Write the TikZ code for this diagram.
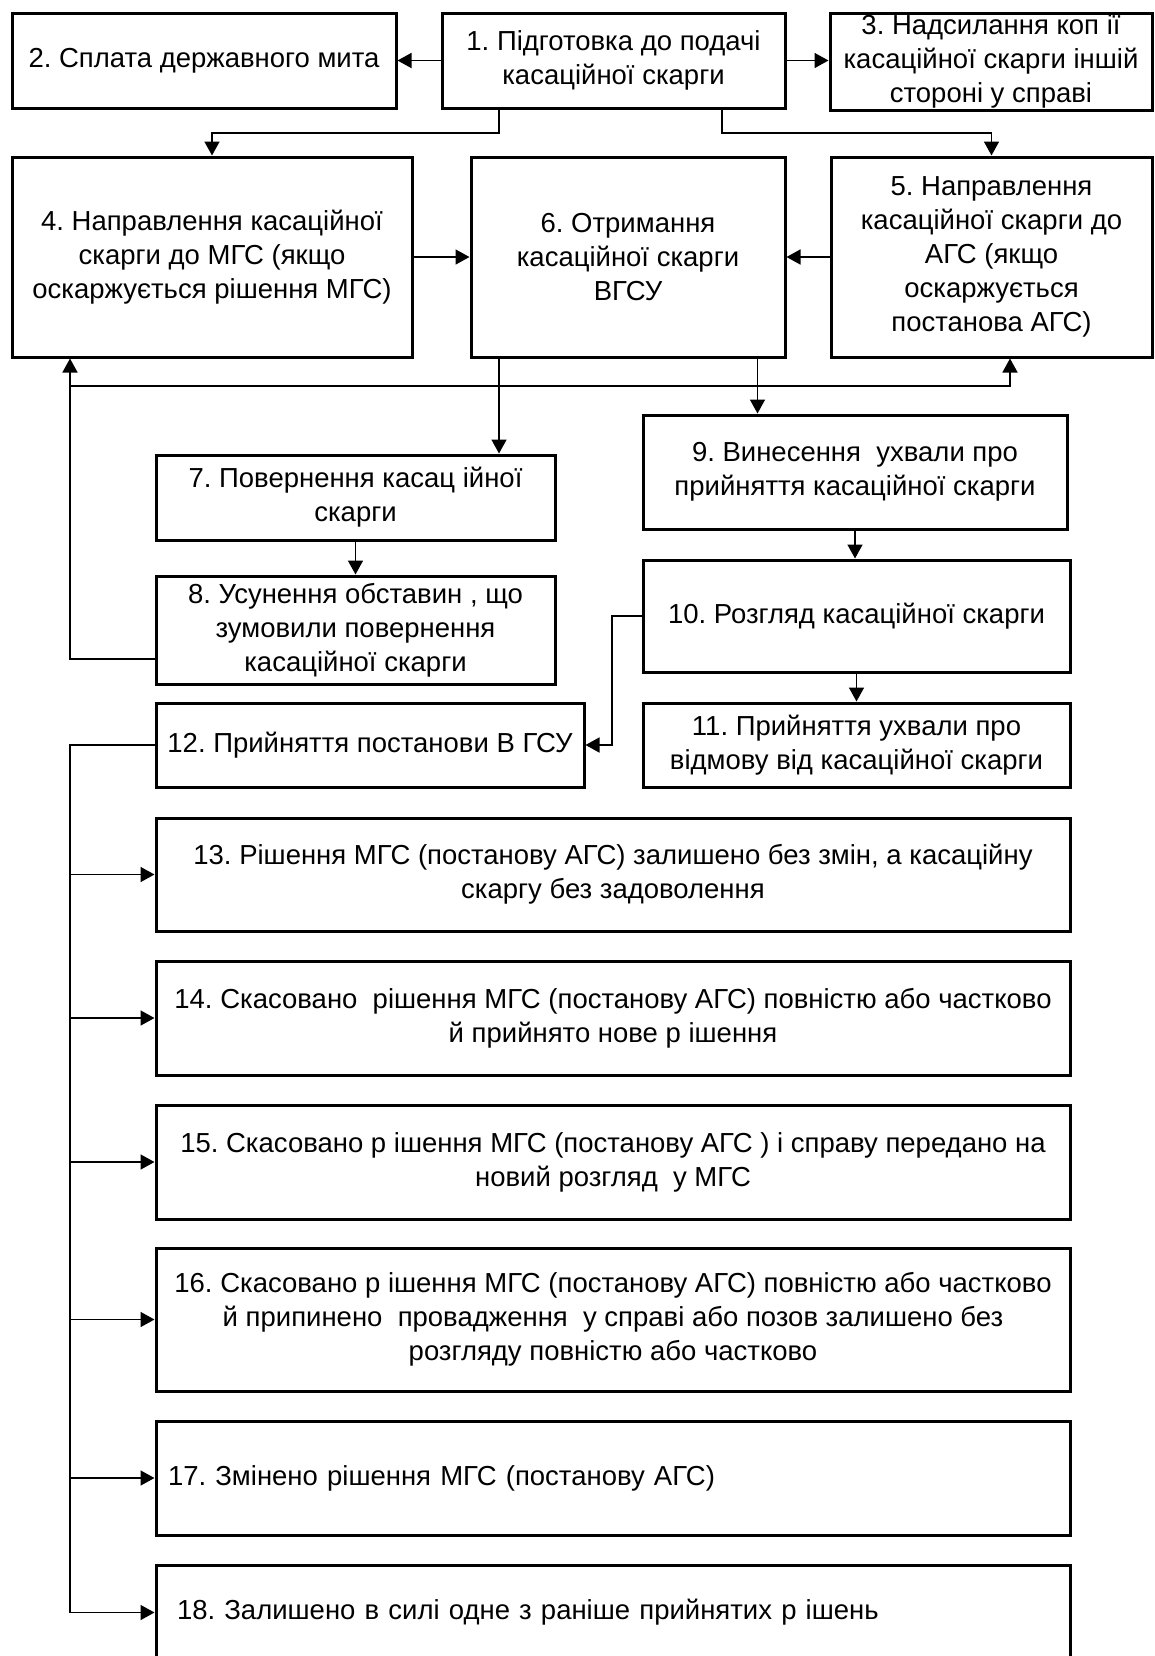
\documentclass[tikz,border=0pt]{standalone}
\usepackage{fontspec}
\setmainfont{Liberation Sans}
\usetikzlibrary{arrows.meta}
\frenchspacing
\begin{document}
\begin{tikzpicture}[x=0.5pt,y=-0.5pt,
  box/.style={draw, line width=1.5pt, inner xsep=1pt, inner ysep=0pt, align=center,
    font=\fontsize{13.75pt}{17pt}\selectfont\frenchspacing},
  conn/.style={line width=0.8pt},
  arr/.style={conn, -{Triangle[length=7pt,width=7.5pt]}}]
\useasboundingbox (0,0) rectangle (1155,1656);
\clip (0,0) rectangle (1155,1656);
% boxes
\node[box, minimum width=171.5pt, minimum height=47.5pt] (B1) at (613.5,60.5) {1. Підготовка до подачі\\касаційної скарги};
\node[box, minimum width=192pt, minimum height=47.5pt] (B2) at (204,60.5) {2. Сплата державного мита};
\node[box, minimum width=161pt, minimum height=48.5pt] (B3) at (991,61.5) {3. Надсилання коп ії\\касаційної скарги іншій\\стороні у справі};
\node[box, minimum width=200pt, minimum height=100pt] (B4) at (212,257) {4. Направлення касаційної\\скарги до МГС (якщо\\оскаржується рішення МГС)};
\node[box, minimum width=157pt, minimum height=100pt] (B6) at (628,257) {6. Отримання\\касаційної скарги\\ВГСУ};
\node[box, minimum width=160.5pt, minimum height=100pt] (B5) at (991.5,257) {5. Направлення\\касаційної скарги до\\АГС (якщо\\оскаржується\\постанова АГС)};
\node[box, minimum width=199.5pt, minimum height=42.5pt] (B7) at (355.5,497.5) {7. Повернення касац ійної\\скарги};
\node[box, minimum width=199.5pt, minimum height=54pt] (B8) at (355.5,630) {8. Усунення обставин , що\\зумовили повернення\\касаційної скарги};
\node[box, minimum width=212pt, minimum height=57pt] (B9) at (855,472) {9. Винесення~ ухвали про\\прийняття касаційної скарги};
\node[box, minimum width=213.5pt, minimum height=56pt] (B10) at (856.5,616) {10. Розгляд касаційної скарги};
\node[box, minimum width=213.5pt, minimum height=42pt] (B11) at (856.5,745) {11. Прийняття ухвали про\\відмову від касаційної скарги};
\node[box, minimum width=214pt, minimum height=42pt] (B12) at (370,745) {12. Прийняття постанови В ГСУ};
\node[box, minimum width=457pt, minimum height=56.5pt] (B13) at (613,874.5) {13. Рішення МГС (постанову АГС) залишено без змін, а касаційну\\скаргу без задоволення};
\node[box, minimum width=457pt, minimum height=57pt] (B14) at (613,1018) {14. Скасовано~ рішення МГС (постанову АГС) повністю або частково\\й прийнято нове р ішення};
\node[box, minimum width=457pt, minimum height=57pt] (B15) at (613,1162) {15. Скасовано р ішення МГС (постанову АГС ) і справу передано на\\новий розгляд~ у МГС};
\node[box, minimum width=457pt, minimum height=71.5pt] (B16) at (613,1319.5) {16. Скасовано р ішення МГС (постанову АГС) повністю або частково\\й припинено~ провадження~ у справі або позов залишено без\\розгляду повністю або частково};
\node[box, align=left, inner xsep=6pt, text width=445pt, minimum height=57pt] (B17) at (613,1478) {17. Змінено рішення МГС (постанову АГС)};
\node[box, align=left, inner xsep=10.5pt, text width=436pt, minimum height=47.5pt] (B18) at (613,1612.5) {18. Залишено в силі одне з раніше прийнятих р ішень};
% helper coordinates
\coordinate (s1) at (499,133);
\coordinate (s2) at (722,133);
\coordinate (v1) at (499,400);
\coordinate (v2) at (757.5,400);
\coordinate (r0) at (70,659);
\coordinate (r1) at (70,386);
\coordinate (r2) at (1010,386);
\coordinate (t1) at (611.7,680);
\coordinate (sp) at (70,1000);
% connectors
\draw[arr] (B1.west) -- (B2.east);
\draw[arr] (B1.east) -- (B1.east -| B3.west);
\draw[arr] (B1.south -| s1) -- (s1) -| (B4.north);
\draw[arr] (B1.south -| s2) -- (s2) -| (B5.north);
\draw[arr] (B4.east) -- (B6.west);
\draw[arr] (B5.west) -- (B6.east);
\draw[arr] (B6.south -| v1) -- (B7.north -| v1);
\draw[arr] (B6.south -| v2) -- (B9.north -| v2);
\draw[arr] (B8.west |- r0) -- (r0) -- (B4.south -| r0);
\draw[arr] (r1) -- (r2) -- (B5.south -| r2);
\draw[arr] (B7.south) -- (B8.north);
\draw[arr] (B9.south) -- (B9.south |- B10.north);
\draw[arr] (B10.south) -- (B10.south |- B11.north);
\draw[arr] (B10.west) -| (t1) |- (B12.east);
\draw[conn] (B12.west) -| (sp |- B18.west);
\draw[arr] (sp |- B13.west) -- (B13.west);
\draw[arr] (sp |- B14.west) -- (B14.west);
\draw[arr] (sp |- B15.west) -- (B15.west);
\draw[arr] (sp |- B16.west) -- (B16.west);
\draw[arr] (sp |- B17.west) -- (B17.west);
\draw[arr] (sp |- B18.west) -- (B18.west);
\end{tikzpicture}
\end{document}
